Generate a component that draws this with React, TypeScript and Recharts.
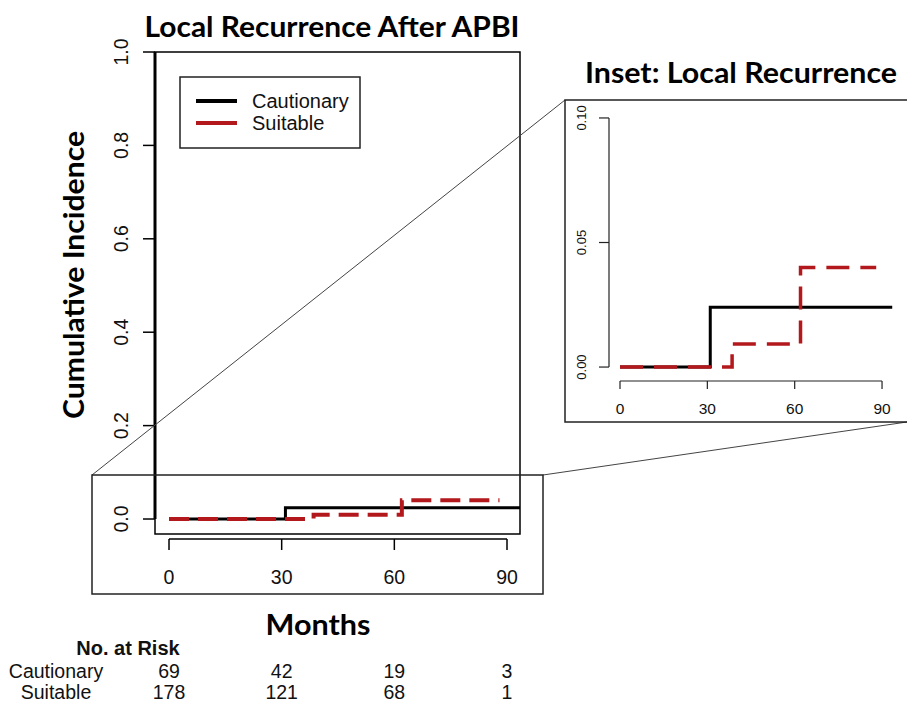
import React from "react";
import { LineChart, Line, XAxis, YAxis, ReferenceLine, ReferenceArea, Legend } from "recharts";

// x ticks (months) and y ticks (cumulative incidence)
const monthTicks = [0, 30, 60, 90];
const mainIncidenceTicks = [0, 0.2, 0.4, 0.6, 0.8, 1.0];
const insetIncidenceTicks = [0, 0.05, 0.1];

// step curves
const cautionaryMonths = [0, 31, 93.5];
const cautionaryIncidence = [0, 0.024, 0.024];
const suitableMonths = [0, 38.5, 62, 88];
const suitableIncidence = [0, 0.0093, 0.04, 0.04];

// number at risk table
const riskGroups = ["Cautionary", "Suitable"];
const cautionaryAtRisk = [69, 42, 19, 3];
const suitableAtRisk = [178, 121, 68, 1];

const RED = "#b3191c";
const INK = "#111";
const ARIAL = "'Liberation Sans', Arial, sans-serif";
const CALIBRI = "Lato, 'Open Sans', sans-serif";

const cautionaryData = cautionaryMonths.map((m, i) => ({ month: m, value: cautionaryIncidence[i] }));
const suitableData = suitableMonths.map((m, i) => ({ month: m, value: suitableIncidence[i] }));

const MAIN_X: [number, number] = [-3.73, 93.46];
const MAIN_Y: [number, number] = [-0.0428, 1.0];
const MAIN_BOX_BOTTOM = -0.0321;
const INSET_X: [number, number] = [-3.78, 97.2];
const INSET_Y: [number, number] = [-0.0056, 0.1044];

const rotatedTick = (offset: number, fontSize: number, digits: number) => (props: any) => {
  const { x, y, payload } = props;
  const bx = x + offset;
  return (
    <text
      x={bx}
      y={y}
      transform={`rotate(-90 ${bx} ${y})`}
      textAnchor="middle"
      fontSize={fontSize}
      fontFamily={ARIAL}
      fill={INK}
    >
      {Number(payload.value).toFixed(digits)}
    </text>
  );
};

const RiskTick = (props: any) => {
  const { x, y, index } = props;
  return (
    <g fontFamily={ARIAL} fontSize={19.5} fill={INK} textAnchor="middle">
      <text x={x} y={y}>{cautionaryAtRisk[index]}</text>
      <text x={x} y={y + 21}>{suitableAtRisk[index]}</text>
    </g>
  );
};

const LegendBox = (props: any) => {
  const payload = props.payload || [];
  return (
    <svg width={183} height={74} style={{ display: "block" }}>
      <rect x={1} y={1} width={180} height={71} fill="#fff" stroke="#222" strokeWidth={1.5} />
      {payload.map((entry: any, i: number) => (
        <g key={entry.value}>
          <line x1={17} x2={58} y1={25 + i * 22} y2={25 + i * 22} stroke={entry.color} strokeWidth={4} />
          <text x={73} y={32 + i * 22} fontSize={20} fontFamily={ARIAL} fill={INK}>
            {entry.value}
          </text>
        </g>
      ))}
    </svg>
  );
};

function MainPlot() {
  return (
    <LineChart width={907} height={703} margin={{ top: 52, right: 387, bottom: 0, left: 99 }}>
      <XAxis
        xAxisId="a"
        type="number"
        dataKey="month"
        domain={MAIN_X}
        ticks={monthTicks}
        allowDataOverflow
        axisLine={false}
        tickSize={11}
        tickLine={{ stroke: "#000", strokeWidth: 1.5 }}
        tickMargin={20}
        height={139}
        tick={{ fill: INK, fontSize: 19.5, fontFamily: ARIAL }}
      />
      <XAxis
        xAxisId="b"
        type="number"
        dataKey="month"
        domain={MAIN_X}
        ticks={monthTicks}
        allowDataOverflow
        axisLine={false}
        tickLine={false}
        tickSize={0}
        tickMargin={0}
        height={25}
        tick={RiskTick}
      />
      <YAxis
        type="number"
        domain={MAIN_Y}
        ticks={mainIncidenceTicks}
        allowDataOverflow
        axisLine={false}
        tickSize={12}
        tickLine={{ stroke: "#000", strokeWidth: 1.5 }}
        width={56}
        tick={rotatedTick(-13, 19.5, 1)}
      />
      <ReferenceArea
        xAxisId="a"
        x1={MAIN_X[0]}
        x2={MAIN_X[1]}
        y1={MAIN_BOX_BOTTOM}
        y2={MAIN_Y[1]}
        fill="none"
        stroke="#000"
        strokeWidth={1.5}
        ifOverflow="visible"
      />
      <ReferenceLine
        xAxisId="a"
        segment={[{ x: MAIN_X[0], y: 0 }, { x: MAIN_X[0], y: 1 }]}
        stroke="#000"
        strokeWidth={3}
        ifOverflow="visible"
      />
      <ReferenceLine
        xAxisId="a"
        segment={[{ x: monthTicks[0], y: MAIN_Y[0] }, { x: monthTicks[3], y: MAIN_Y[0] }]}
        stroke="#000"
        strokeWidth={1.5}
        ifOverflow="visible"
      />
      <Line
        xAxisId="a"
        data={cautionaryData}
        dataKey="value"
        name="Cautionary"
        type="stepAfter"
        stroke="#000"
        strokeWidth={3}
        dot={false}
        isAnimationActive={false}
      />
      <Line
        xAxisId="a"
        data={suitableData}
        dataKey="value"
        name="Suitable"
        type="stepAfter"
        stroke={RED}
        strokeWidth={4}
        strokeDasharray="20 9"
        dot={false}
        isAnimationActive={false}
      />
      <Legend
        layout="vertical"
        align="center"
        verticalAlign="middle"
        content={LegendBox}
        wrapperStyle={{ left: 179, top: 76, width: 183, height: 74 }}
      />
    </LineChart>
  );
}

function InsetPlot() {
  return (
    <LineChart width={907} height={703} margin={{ top: 107, right: 4, bottom: 282, left: 560 }}>
      <XAxis
        type="number"
        dataKey="month"
        domain={INSET_X}
        ticks={monthTicks}
        allowDataOverflow
        axisLine={false}
        tickSize={8}
        tickLine={{ stroke: "#222", strokeWidth: 1.2 }}
        tickMargin={14}
        height={40}
        tick={{ fill: INK, fontSize: 15.5, fontFamily: ARIAL }}
      />
      <YAxis
        type="number"
        domain={INSET_Y}
        ticks={insetIncidenceTicks}
        allowDataOverflow
        axisLine={false}
        tickSize={10}
        tickLine={{ stroke: "#222", strokeWidth: 1.2 }}
        width={49}
        tick={rotatedTick(-11, 13, 2)}
      />
      <ReferenceLine
        segment={[{ x: INSET_X[0], y: insetIncidenceTicks[0] }, { x: INSET_X[0], y: insetIncidenceTicks[2] }]}
        stroke="#222"
        strokeWidth={1.2}
        ifOverflow="visible"
      />
      <ReferenceLine
        segment={[{ x: monthTicks[0], y: INSET_Y[0] }, { x: monthTicks[3], y: INSET_Y[0] }]}
        stroke="#222"
        strokeWidth={1.2}
        ifOverflow="visible"
      />
      <Line
        data={cautionaryData}
        dataKey="value"
        type="stepAfter"
        stroke="#000"
        strokeWidth={3}
        dot={false}
        isAnimationActive={false}
      />
      <Line
        data={suitableData}
        dataKey="value"
        type="stepAfter"
        stroke={RED}
        strokeWidth={3.5}
        strokeDasharray="23 11"
        dot={false}
        isAnimationActive={false}
      />
    </LineChart>
  );
}

export default function App() {
  return (
    <div style={{ position: "absolute", left: 0, top: 0, width: 907, height: 703, background: "#fff", overflow: "hidden" }}>
      <div style={{ position: "absolute", left: 0, top: 0 }}>
        <MainPlot />
      </div>
      <div style={{ position: "absolute", left: 0, top: 0 }}>
        <InsetPlot />
      </div>
      <svg width={907} height={703} style={{ position: "absolute", left: 0, top: 0, pointerEvents: "none" }}>
        {/* zoom guide */}
        <line x1={92} y1={475} x2={565} y2={100} stroke="#444" strokeWidth={1} />
        <line x1={543} y1={475} x2={907} y2={422} stroke="#444" strokeWidth={1} />
        <rect x={92} y={475} width={451} height={119} fill="none" stroke="#222" strokeWidth={1.5} />
        <rect x={565} y={100} width={360} height={322} fill="none" stroke="#222" strokeWidth={1.5} />

        <g fontFamily={CALIBRI} fontWeight={700} fill="#000">
          <text x={332} y={37} textAnchor="middle" fontSize={29} textLength={375} lengthAdjust="spacingAndGlyphs">
            Local Recurrence After APBI
          </text>
          <text x={741} y={83} textAnchor="middle" fontSize={28} textLength={312} lengthAdjust="spacingAndGlyphs">
            Inset: Local Recurrence
          </text>
          <text
            x={84}
            y={275}
            transform="rotate(-90 84 275)"
            textAnchor="middle"
            fontSize={29}
            textLength={288}
            lengthAdjust="spacingAndGlyphs"
          >
            Cumulative Incidence
          </text>
          <text x={318} y={635} textAnchor="middle" fontSize={29} textLength={105} lengthAdjust="spacingAndGlyphs">
            Months
          </text>
        </g>

        <g fontFamily={ARIAL} fill={INK} textAnchor="middle">
          <text x={128} y={655} fontSize={20} fontWeight={700}>
            No. at Risk
          </text>
          {riskGroups.map((g, i) => (
            <text key={g} x={56} y={678 + i * 21} fontSize={19.5}>
              {g}
            </text>
          ))}
        </g>
      </svg>
    </div>
  );
}
